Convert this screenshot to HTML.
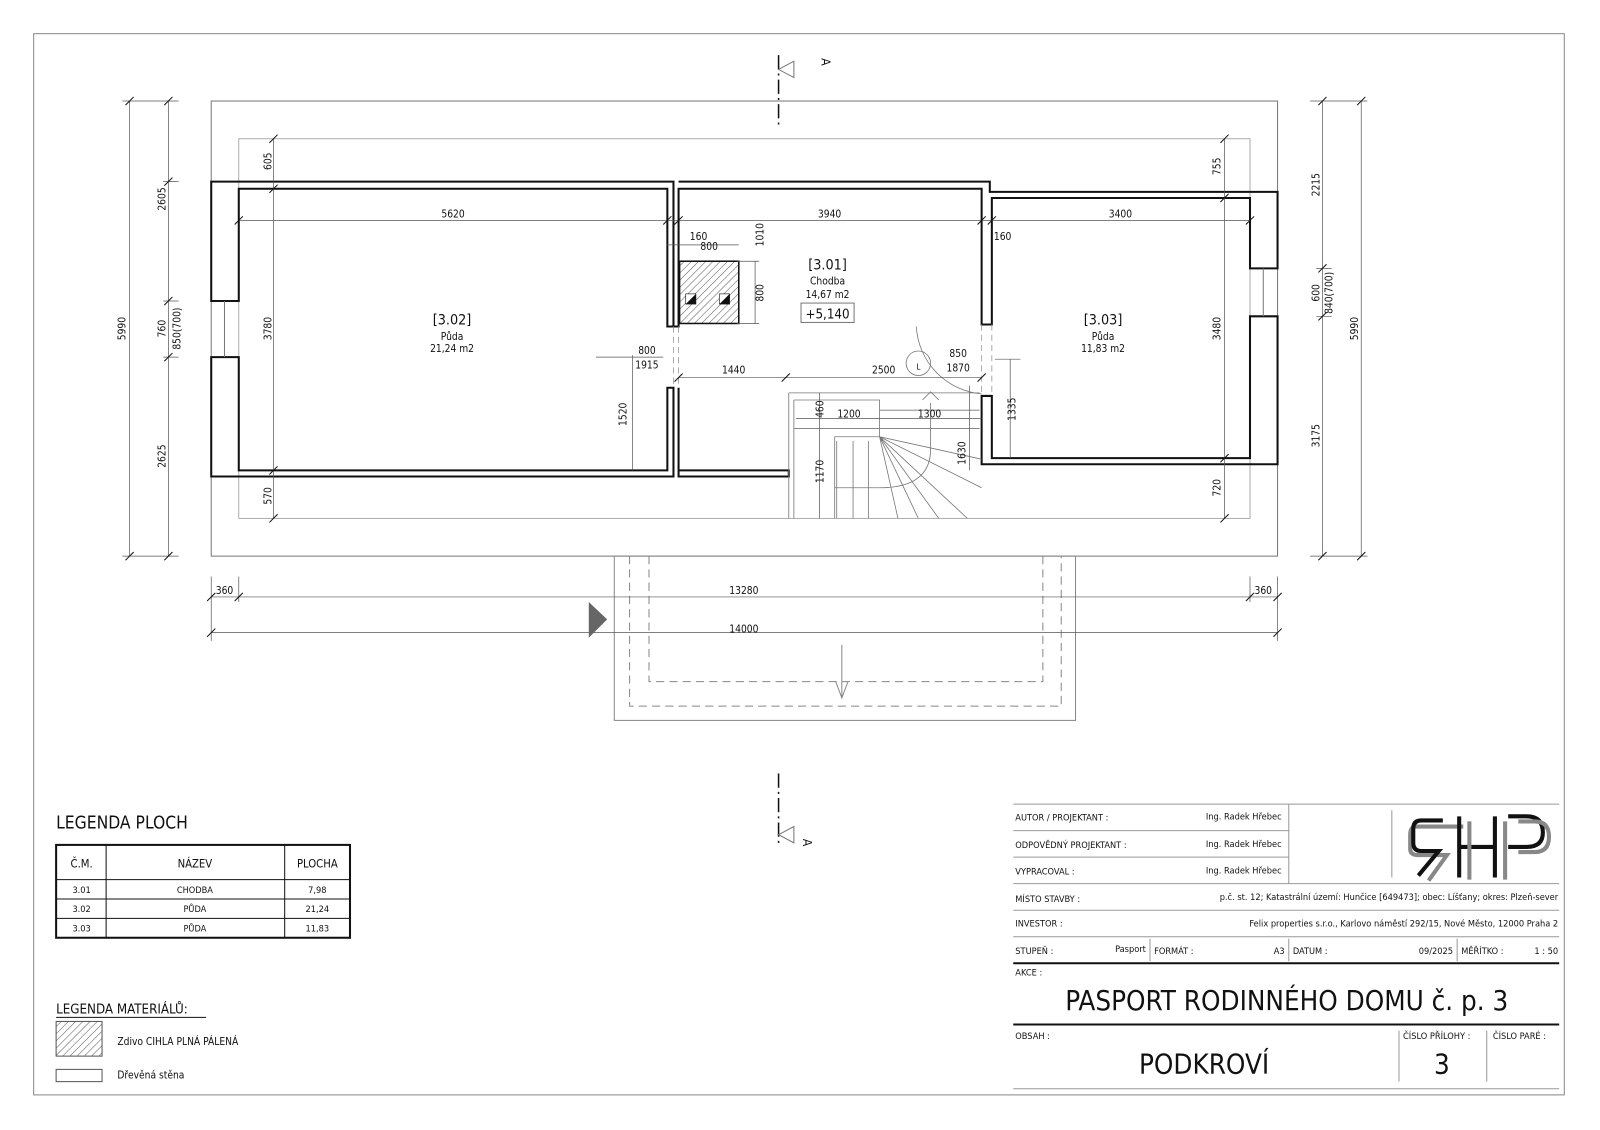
<!DOCTYPE html>
<html><head><meta charset="utf-8"><style>
html,body{margin:0;padding:0;background:#fff}
svg{display:block}
text{font-family:"DejaVu Sans Condensed","Liberation Sans",sans-serif;fill:#111}
</style></head><body>
<svg width="1600" height="1130" viewBox="0 0 1568 1107.4" preserveAspectRatio="none" xmlns="http://www.w3.org/2000/svg">
<rect x="0" y="0" width="1568" height="1108" fill="#fff"/>
<rect x="33" y="33" width="1500" height="1040" fill="none" stroke="#888" stroke-width="1"/>
<!-- roof outlines -->
<rect x="207" y="99" width="1045" height="446" fill="none" stroke="#777" stroke-width="1"/>
<rect x="234" y="136" width="991" height="372" fill="none" stroke="#999" stroke-width="0.8"/>
<!-- porch -->
<rect x="602" y="545" width="452" height="161" fill="none" stroke="#888" stroke-width="1"/>
<path d="M617 545 V692 H1040 V545 M636 545 V668 H1022 V545" fill="none" stroke="#888" stroke-width="1" stroke-dasharray="8 5"/>
<path d="M825 632 V684 M819 668 L825 684 L831 668" fill="none" stroke="#888" stroke-width="1"/>
<!-- walls -->
<g fill="none" stroke="#111" stroke-width="2">
<path d="M207 178 H660 V320 H654 V185 H234 V295 H207 Z"/>
<path d="M207 350 H234 V461 H654 V380 H660 V467 H207 Z"/>
<path d="M665 178 H970 V188 H1252 V263 H1225 V194 H972 V318 H962 V185 H665 V320 H654"/>
<path d="M1252 310 V455 H962 V388 H972 V449 H1225 V310 Z"/>
<path d="M665 380 V461 H773 V467 H665 Z"/>
</g>
<path d="M220 295 V350 M1238 263 V310" stroke="#777" stroke-width="1"/>
<path d="M660 320 V380 M665 320 V380 M962 318 V388 M972 318 V388" stroke="#999" stroke-width="0.8" stroke-dasharray="6 4"/>
<!-- chimney -->
<defs><pattern id="h" width="5" height="5" patternUnits="userSpaceOnUse" patternTransform="rotate(45)"><line x1="0" y1="0" x2="0" y2="5" stroke="#555" stroke-width="1"/></pattern></defs>
<rect x="666" y="256" width="58" height="61" fill="url(#h)" stroke="#111" stroke-width="1.5"/>
<rect x="672" y="288" width="10" height="10" fill="#fff" stroke="#111" stroke-width="0.6"/><path d="M672 298 L682 288 V298Z" fill="#111"/>
<rect x="705" y="288" width="10" height="10" fill="#fff" stroke="#111" stroke-width="0.6"/><path d="M705 298 L715 288 V298Z" fill="#111"/>
<!-- stairs -->
<g fill="none" stroke="#777" stroke-width="0.8">
<path d="M773 385 V508 M773 385 H960 M778 392 V508 M778 392 H862 V428 H818 V508 M778 420 H960 M862 402 H960 M862 392 V428"/>
<path d="M820 432 V508 M836 432 V508 M851 432 V508 M818 478 H862"/>
<path d="M862 428 L880 508 M862 428 L900 508 M862 428 L920 508 M862 428 L948 508 M862 428 L962 478 M862 428 L962 450"/>
<path d="M912 395 V440 Q912 478 862 478 M904 392 L912 384 L920 392"/>
<path d="M898 320 A70 70 0 0 0 962 386"/>
<circle cx="900" cy="356" r="12"/>
</g>
<text x="900" y="362" font-size="8" text-anchor="middle">L</text>
<!-- section lines -->
<g stroke="#111" stroke-width="1.5" fill="none">
<path d="M763 54 V125" stroke-dasharray="14 4 2 4"/>
<path d="M763 758 V830" stroke-dasharray="14 4 2 4"/>
</g>
<path d="M763 68 L778 60 V76 Z M763 818 L778 810 V826 Z" fill="#fff" stroke="#777"/>
<text x="805" y="57" font-size="12" transform="rotate(90 805 57)">A</text>
<text x="787" y="822" font-size="12" transform="rotate(90 787 822)">A</text>
<!-- dimension lines -->
<g stroke="#555" stroke-width="0.7" fill="none">
<path d="M127 99 V545 M165 99 V545 M268 136 V508 M120 99 H175 M120 545 H175 M160 178 H175 M160 295 H175 M160 350 H175"/>
<path d="M1200 136 V508 M1296 99 V545 M1334 99 V545 M1284 99 H1340 M1284 545 H1340 M1290 263 H1305 M1290 310 H1305"/>
<path d="M234 216 H1225 M665 370 H962 M207 585 H1252 M207 620 H1252 M207 565 V628 M1252 565 V628 M234 565 V590 M1225 565 V590"/>
<path d="M653 240 H724 M740 256 V317 M722 256 H744 M722 317 H744 M620 348 V461 M584 350 H650 M990 352 V449 M975 352 H1000 M803 385 V508 M780 410 H962 M950 378 V461"/>
</g>
<g stroke="#111" stroke-width="1">
<path d="M123 103 L131 95 M123 549 L131 541 M161 103 L169 95 M161 182 L169 174 M161 299 L169 291 M161 354 L169 346 M161 549 L169 541 M264 140 L272 132 M264 189 L272 181 M264 465 L272 457 M264 512 L272 504"/>
<path d="M1196 140 L1204 132 M1196 198 L1204 190 M1196 453 L1204 445 M1196 512 L1204 504 M1292 103 L1300 95 M1292 267 L1300 259 M1292 314 L1300 306 M1292 549 L1300 541 M1330 103 L1338 95 M1330 549 L1338 541"/>
<path d="M230 220 L238 212 M650 220 L658 212 M661 220 L669 212 M958 220 L966 212 M968 220 L976 212 M1221 220 L1229 212 M661 374 L669 366 M766 374 L774 366 M958 374 L966 366"/>
<path d="M203 589 L211 581 M230 589 L238 581 M1221 589 L1229 581 M1248 589 L1256 581 M203 624 L211 616 M1248 624 L1256 616"/>
</g>
<path d="M577 590 L595 607 L577 625 Z" fill="#666"/>
<!-- dimension texts -->
<g font-size="10">
<text x="123" y="322" text-anchor="middle" transform="rotate(-90 123 322)">5990</text>
<text x="162" y="195" text-anchor="middle" transform="rotate(-90 162 195)">2605</text>
<text x="162" y="322" text-anchor="middle" transform="rotate(-90 162 322)">760</text>
<text x="177" y="322" text-anchor="middle" transform="rotate(-90 177 322)">850(700)</text>
<text x="162" y="447" text-anchor="middle" transform="rotate(-90 162 447)">2625</text>
<text x="266" y="158" text-anchor="middle" transform="rotate(-90 266 158)">605</text>
<text x="266" y="322" text-anchor="middle" transform="rotate(-90 266 322)">3780</text>
<text x="266" y="486" text-anchor="middle" transform="rotate(-90 266 486)">570</text>
<text x="1196" y="163" text-anchor="middle" transform="rotate(-90 1196 163)">755</text>
<text x="1196" y="322" text-anchor="middle" transform="rotate(-90 1196 322)">3480</text>
<text x="1196" y="478" text-anchor="middle" transform="rotate(-90 1196 478)">720</text>
<text x="1293" y="181" text-anchor="middle" transform="rotate(-90 1293 181)">2215</text>
<text x="1293" y="287" text-anchor="middle" transform="rotate(-90 1293 287)">600</text>
<text x="1306" y="287" text-anchor="middle" transform="rotate(-90 1306 287)">840(700)</text>
<text x="1293" y="427" text-anchor="middle" transform="rotate(-90 1293 427)">3175</text>
<text x="1331" y="322" text-anchor="middle" transform="rotate(-90 1331 322)">5990</text>
<text x="444" y="213" text-anchor="middle">5620</text>
<text x="813" y="213" text-anchor="middle">3940</text>
<text x="1098" y="213" text-anchor="middle">3400</text>
<text x="676" y="235">160</text>
<text x="695" y="245" text-anchor="middle">800</text>
<text x="974" y="235">160</text>
<text x="748" y="230" text-anchor="middle" transform="rotate(-90 748 230)">1010</text>
<text x="748" y="287" text-anchor="middle" transform="rotate(-90 748 287)">800</text>
<text x="634" y="347" text-anchor="middle">800</text>
<text x="634" y="361" text-anchor="middle">1915</text>
<text x="614" y="406" text-anchor="middle" transform="rotate(-90 614 406)">1520</text>
<text x="719" y="366" text-anchor="middle">1440</text>
<text x="866" y="366" text-anchor="middle">2500</text>
<text x="939" y="350" text-anchor="middle">850</text>
<text x="939" y="364" text-anchor="middle">1870</text>
<text x="807" y="401" text-anchor="middle" transform="rotate(-90 807 401)">460</text>
<text x="832" y="409" text-anchor="middle">1200</text>
<text x="911" y="409" text-anchor="middle">1300</text>
<text x="807" y="462" text-anchor="middle" transform="rotate(-90 807 462)">1170</text>
<text x="946" y="444" text-anchor="middle" transform="rotate(-90 946 444)">1630</text>
<text x="995" y="401" text-anchor="middle" transform="rotate(-90 995 401)">1335</text>
<text x="220" y="582" text-anchor="middle">360</text>
<text x="729" y="582" text-anchor="middle">13280</text>
<text x="1238" y="582" text-anchor="middle">360</text>
<text x="729" y="620" text-anchor="middle">14000</text>
</g>
<!-- room labels -->
<g text-anchor="middle">
<text x="443" y="318" font-size="14">[3.02]</text><text x="443" y="333" font-size="10">Půda</text><text x="443" y="345" font-size="10">21,24 m2</text>
<text x="811" y="264" font-size="14">[3.01]</text><text x="811" y="279" font-size="10">Chodba</text><text x="811" y="292" font-size="10">14,67 m2</text>
<text x="1081" y="318" font-size="14">[3.03]</text><text x="1081" y="333" font-size="10">Půda</text><text x="1081" y="345" font-size="10">11,83 m2</text>
</g>
<rect x="785" y="297" width="52" height="19" fill="none" stroke="#777"/>
<text x="811" y="312" font-size="13" text-anchor="middle">+5,140</text>
<!-- legend ploch -->
<text x="55" y="812" font-size="17">LEGENDA PLOCH</text>
<rect x="55" y="828" width="288" height="91" fill="none" stroke="#111" stroke-width="2"/>
<path d="M55 862 H343 M55 881 H343 M55 900 H343 M104 828 V919 M279 828 V919" stroke="#111" stroke-width="1"/>
<g font-size="10" text-anchor="middle">
<text x="80" y="850" font-size="11">Č.M.</text><text x="191" y="850" font-size="11">NÁZEV</text><text x="311" y="850" font-size="11">PLOCHA</text>
<text x="80" y="875" font-size="9">3.01</text><text x="191" y="875" font-size="9">CHODBA</text><text x="311" y="875" font-size="9">7,98</text>
<text x="80" y="894" font-size="9">3.02</text><text x="191" y="894" font-size="9">PŮDA</text><text x="311" y="894" font-size="9">21,24</text>
<text x="80" y="913" font-size="9">3.03</text><text x="191" y="913" font-size="9">PŮDA</text><text x="311" y="913" font-size="9">11,83</text>
</g>
<text x="55" y="993" font-size="13">LEGENDA MATERIÁLŮ:</text>
<line x1="55" y1="997" x2="202" y2="997" stroke="#111"/>
<rect x="55" y="1001" width="45" height="34" fill="url(#h)" stroke="#555"/>
<text x="115" y="1024" font-size="10">Zdivo CIHLA PLNÁ PÁLENÁ</text>
<rect x="55" y="1048" width="45" height="12" fill="none" stroke="#555"/>
<text x="115" y="1057" font-size="10">Dřevěná stěna</text>
<!-- title block -->
<g stroke="#999" stroke-width="1" fill="none">
<path d="M993 788 H1528 M993 814 H1263 M993 840 H1263 M993 866 H1528 M993 892 H1528 M993 918 H1528 M993 1067 H1528 M1263 788 V866 M1364 794 V860 M1127 920 V942 M1263 920 V942 M1428 920 V942 M1371 1010 V1060 M1457 1010 V1060"/>
</g>
<path d="M993 944 H1528 M993 1004 H1528" stroke="#111" stroke-width="2"/>
<g font-size="9">
<text x="995" y="804">AUTOR / PROJEKTANT :</text><text x="1256" y="803" text-anchor="end">Ing. Radek Hřebec</text>
<text x="995" y="831">ODPOVĚDNÝ PROJEKTANT :</text><text x="1256" y="830" text-anchor="end">Ing. Radek Hřebec</text>
<text x="995" y="857">VYPRACOVAL :</text><text x="1256" y="856" text-anchor="end">Ing. Radek Hřebec</text>
<text x="995" y="884">MÍSTO STAVBY :</text><text x="1527" y="882" text-anchor="end">p.č. st. 12; Katastrální území: Hunčice [649473]; obec: Líšťany; okres: Plzeň-sever</text>
<text x="995" y="908">INVESTOR :</text><text x="1527" y="908" text-anchor="end">Felix properties s.r.o., Karlovo náměstí 292/15, Nové Město, 12000 Praha 2</text>
<text x="995" y="935">STUPEŇ :</text><text x="1123" y="933" text-anchor="end">Pasport</text>
<text x="1131" y="935">FORMÁT :</text><text x="1259" y="935" text-anchor="end">A3</text>
<text x="1267" y="935">DATUM :</text><text x="1424" y="935" text-anchor="end">09/2025</text>
<text x="1432" y="935">MĚŘÍTKO :</text><text x="1527" y="935" text-anchor="end">1 : 50</text>
<text x="995" y="956">AKCE :</text>
<text x="995" y="1018">OBSAH :</text>
<text x="1375" y="1018">ČÍSLO PŘÍLOHY :</text>
<text x="1463" y="1018">ČÍSLO PARÉ :</text>
</g>
<text x="1261" y="990" font-size="27" text-anchor="middle">PASPORT RODINNÉHO DOMU č. p. 3</text>
<text x="1180" y="1052" font-size="27" text-anchor="middle">PODKROVÍ</text>
<text x="1413" y="1052" font-size="27" text-anchor="middle">3</text>
<!-- logo -->
<g fill="none" stroke-width="4">
<path d="M1424 808 H1378 Q1372 808 1372 816 V830 Q1372 836 1380 836 H1408 L1390 861" stroke="#888" transform="translate(10,2)"/>
<path d="M1414 804 H1393 Q1385 804 1385 812 V826 Q1385 834 1393 834 H1410 L1390 858" stroke="#111"/>
<path d="M1430 800 V860 M1465 800 V860 M1430 830 H1465" stroke="#111"/>
<path d="M1440 805 V862 M1475 805 V862" stroke="#888"/>
<path d="M1478 800 H1496 Q1512 800 1512 816 Q1512 830 1496 830 H1478" stroke="#111"/>
<path d="M1488 805 H1504 Q1518 805 1518 820 Q1518 835 1504 835 H1488" stroke="#888"/>
</g>
</svg>
</body></html>
